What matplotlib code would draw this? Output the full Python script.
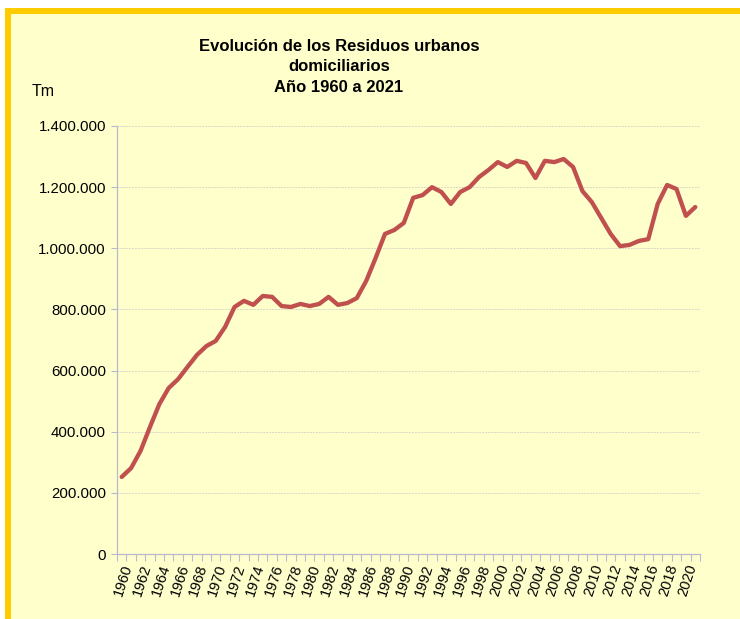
import matplotlib.pyplot as plt
from matplotlib.patches import Rectangle
from matplotlib.ticker import FuncFormatter

years = list(range(1960, 2022))
toneladas = [
    252000, 281000, 337000, 415000, 490000, 543000, 572000, 612000, 651000, 680000,
    697000, 743000, 808000, 828000, 815000, 844000, 841000, 811000, 808000, 818000,
    811000, 818000, 841000, 815000, 821000, 837000, 893000, 968000, 1047000, 1060000,
    1083000, 1165000, 1174000, 1200000, 1184000, 1145000, 1184000, 1200000, 1233000, 1256000,
    1282000, 1266000, 1286000, 1279000, 1230000, 1286000, 1282000, 1292000, 1266000, 1187000,
    1151000, 1099000, 1047000, 1007000, 1011000, 1024000, 1030000, 1145000, 1207000, 1194000,
    1106000, 1135000,
]
titulo = "Evolución de los Residuos urbanos\ndomiciliarios\nAño 1960 a 2021"

plt.rcParams["font.family"] = ["Liberation Sans", "DejaVu Sans"]

W, H = 740, 619
fig = plt.figure(figsize=(W / 100, H / 100), dpi=100)
fig.patch.set_facecolor("white")

# fondo amarillo claro con marco dorado arriba e izquierda
bg = "#FFFFCC"
fig.patches.append(Rectangle((5 / W, 0), 1, 1 - 8 / H, transform=fig.transFigure,
                             facecolor=bg, edgecolor="none", zorder=-3))
fig.patches.append(Rectangle((5 / W, 1 - 14 / H), 1, 6 / H, transform=fig.transFigure,
                             facecolor="#FFCC00", edgecolor="none", zorder=-2))
fig.patches.append(Rectangle((5 / W, 0), 6 / W, 1 - 8 / H, transform=fig.transFigure,
                             facecolor="#FFCC00", edgecolor="none", zorder=-2))

ax = fig.add_axes([117 / W, 65 / H, 583 / W, 428 / H])
ax.set_facecolor(bg)

x = list(range(len(years)))
ax.plot(x, toneladas, color="#C0504D", linewidth=3.1, solid_capstyle="round", solid_joinstyle="round")

ax.set_xlim(-0.5, len(years) - 0.5)
ax.set_ylim(0, 1400000)
ax.set_yticks(range(0, 1400001, 200000))
ax.yaxis.set_major_formatter(FuncFormatter(lambda v, p: f"{int(v):,}".replace(",", ".")))
ax.grid(axis="y", color="#D8D8C8", linestyle=(0, (2, 1)), linewidth=0.7)
ax.set_axisbelow(True)

# marcas entre categorías, etiquetas cada dos años
ax.set_xticks([i - 0.5 for i in range(len(years) + 1)], minor=True)
ax.set_xticks(x[::2])
ax.set_xticklabels([str(y) for y in years[::2]], rotation=72, ha="right",
                   rotation_mode="anchor", fontsize=10.5)
ax.tick_params(axis="x", which="major", length=0, pad=6)
ax.tick_params(axis="x", which="minor", length=5, color="#B8B8D0", width=0.8)
ax.tick_params(axis="y", length=4, color="#B8B8D0", width=0.8, labelsize=10.8, pad=4)

for s in ["top", "right"]:
    ax.spines[s].set_visible(False)
for s in ["left", "bottom"]:
    ax.spines[s].set_color("#B8B8D0")
    ax.spines[s].set_linewidth(0.9)

fig.text(339 / W, 1 - 39 / H, titulo, ha="center", va="top", fontsize=12,
         fontweight="bold", linespacing=1.45)
fig.text(32 / W, 1 - 92 / H, "Tm", ha="left", va="center", fontsize=11.5)

fig.savefig("out.png", dpi=100, facecolor=fig.get_facecolor())
